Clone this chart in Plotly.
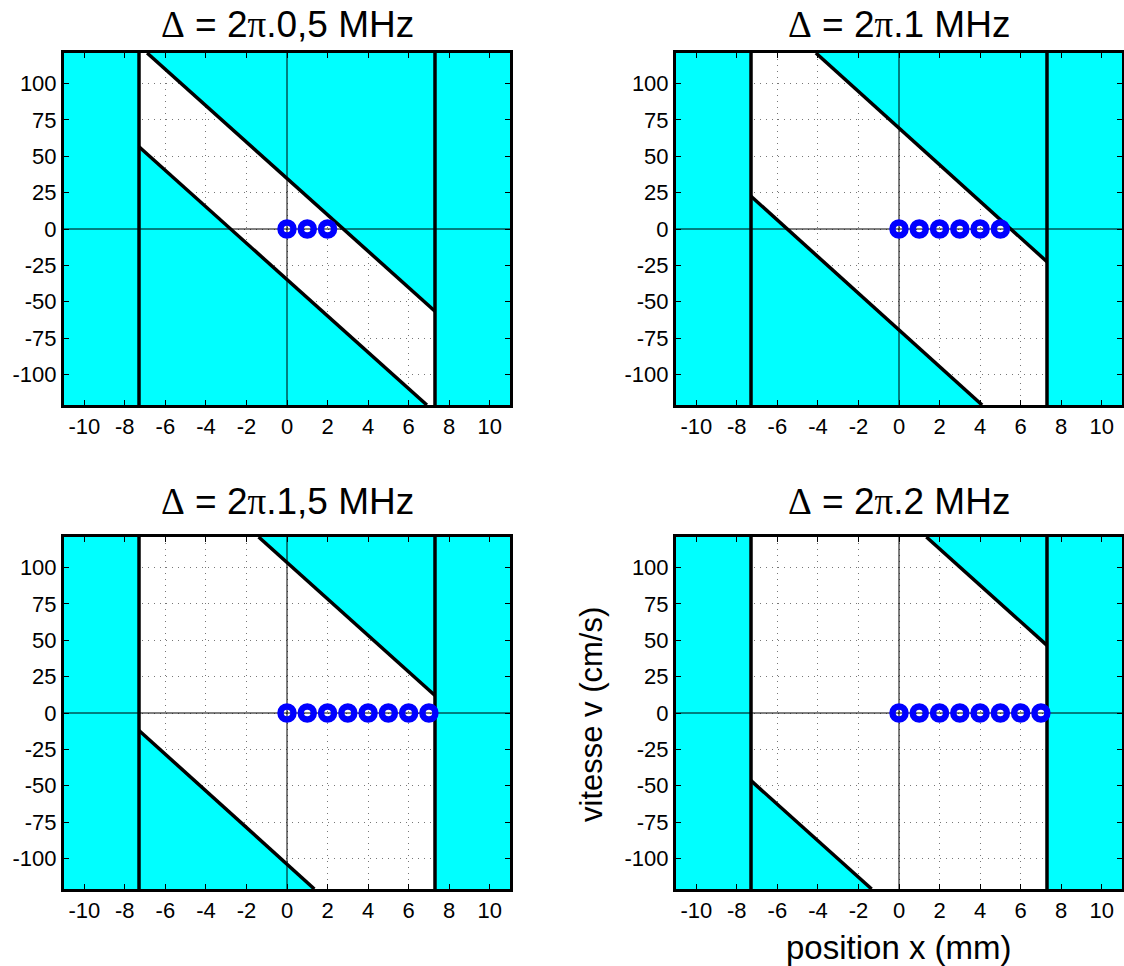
import plotly.graph_objects as go

# ---------------- data ----------------
detuning_labels = ["0,5", "1", "1,5", "2"]

# axis limits and tick values
X_MIN, X_MAX = -11.0, 11.0
V_MIN, V_MAX = -121.0, 121.0
x_ticks = [-10, -8, -6, -4, -2, 0, 2, 4, 6, 8, 10]
x_tick_labels = ["-10", "-8", "-6", "-4", "-2", "0", "2", "4", "6", "8", "10"]
y_ticks = [-100, -75, -50, -25, 0, 25, 50, 75, 100]
y_tick_labels = ["-100", "-75", "-50", "-25", "0", "25", "50", "75", "100"]

# position of the walls (mm)
wall_left = -7.3
wall_right = 7.3

# upper boundary line endpoints (x in mm, v in cm/s) for each panel
upper_x = [[-6.9, 7.3], [-4.1, 7.3], [-1.4, 7.3], [1.35, 7.3]]
upper_v = [[121, -56.5], [121, -22.5], [121, 12], [121, 46.5]]
# lower boundary line endpoints
lower_x = [[-7.3, 6.9], [-7.3, 4.1], [-7.3, 1.35], [-7.3, -1.35]]
lower_v = [[56.5, -121], [22.5, -121], [-12, -121], [-46.5, -121]]

# atoms (blue circles) positions on v = 0
atoms_x = [
    [0, 1, 2],
    [0, 1, 2, 3, 4, 5],
    [0, 1, 2, 3, 4, 5, 6, 7],
    [0, 1, 2, 3, 4, 5, 6, 7],
]
atoms_v = [[0] * len(a) for a in atoms_x]

# ---------------- layout geometry ----------------
W, H = 1124, 966
col_px = [(64, 510), (676, 1122)]
row_px = [(53, 405), (537, 889)]
title_px = [25, 501]

CYAN = "#00FFFF"
BLUE = "#0000FF"
FONT = "Liberation Sans, Arial, sans-serif"
SERIF = "Liberation Serif"

fig = go.Figure()

annotations = []
for i in range(4):
    r, c = divmod(i, 2)
    xa = "x" if i == 0 else f"x{i+1}"
    ya = "y" if i == 0 else f"y{i+1}"
    xl = "xaxis" if i == 0 else f"xaxis{i+1}"
    yl = "yaxis" if i == 0 else f"yaxis{i+1}"

    x0p, x1p = col_px[c]
    y0p, y1p = row_px[r]
    xdom = [x0p / W, x1p / W]
    ydom = [1 - y1p / H, 1 - y0p / H]

    # cyan regions
    regions = [
        ([X_MIN, wall_left, wall_left, X_MIN], [V_MIN, V_MIN, V_MAX, V_MAX]),
        ([wall_right, X_MAX, X_MAX, wall_right], [V_MIN, V_MIN, V_MAX, V_MAX]),
        ([upper_x[i][0], wall_right, wall_right], [V_MAX, V_MAX, upper_v[i][1]]),
        ([wall_left, wall_left, lower_x[i][1]], [lower_v[i][0], V_MIN, V_MIN]),
    ]
    for rx, rv in regions:
        fig.add_trace(go.Scatter(
            x=rx, y=rv, mode="lines", fill="toself", fillcolor=CYAN,
            line=dict(width=0), hoverinfo="skip", showlegend=False,
            xaxis=xa, yaxis=ya))

    # zero axes lines (through origin)
    fig.add_trace(go.Scatter(x=[X_MIN, X_MAX], y=[0, 0], mode="lines",
                             line=dict(color="black", width=1), showlegend=False,
                             hoverinfo="skip", xaxis=xa, yaxis=ya))
    fig.add_trace(go.Scatter(x=[0, 0], y=[V_MIN, V_MAX], mode="lines",
                             line=dict(color="black", width=1), showlegend=False,
                             hoverinfo="skip", xaxis=xa, yaxis=ya))

    # walls
    for wx in (wall_left, wall_right):
        fig.add_trace(go.Scatter(x=[wx, wx], y=[V_MIN, V_MAX], mode="lines",
                                 line=dict(color="black", width=3.5), showlegend=False,
                                 hoverinfo="skip", xaxis=xa, yaxis=ya))
    # diagonal boundaries
    fig.add_trace(go.Scatter(x=upper_x[i], y=upper_v[i], mode="lines",
                             line=dict(color="black", width=3.5), showlegend=False,
                             hoverinfo="skip", xaxis=xa, yaxis=ya))
    fig.add_trace(go.Scatter(x=lower_x[i], y=lower_v[i], mode="lines",
                             line=dict(color="black", width=3.5), showlegend=False,
                             hoverinfo="skip", xaxis=xa, yaxis=ya))

    # atoms
    fig.add_trace(go.Scatter(x=atoms_x[i], y=atoms_v[i], mode="markers",
                             marker=dict(symbol="circle-open", size=13, color=BLUE,
                                         line=dict(color=BLUE, width=6.5)),
                             showlegend=False, xaxis=xa, yaxis=ya))

    axis_common = dict(
        showline=True, linewidth=3, linecolor="black", mirror="ticks",
        ticks="inside", ticklen=5, tickwidth=1, tickcolor="black",
        showgrid=True, gridcolor="#777777", griddash="1px,5px", gridwidth=1,
        zeroline=False, automargin=False,
        tickfont=dict(family=FONT, size=22, color="black"),
    )
    fig.layout[xl] = dict(axis_common, domain=xdom, range=[X_MIN, X_MAX],
                          tickvals=x_ticks, ticktext=x_tick_labels, anchor=ya)
    fig.layout[yl] = dict(axis_common, domain=ydom, range=[V_MIN, V_MAX],
                          tickvals=y_ticks, ticktext=y_tick_labels, anchor=xa)

    annotations.append(dict(
        text=(f"<span style=\"font-family:'{SERIF}'\">\u0394</span> = 2"
              f"<span style=\"font-family:'{SERIF}'\">\u03c0</span>."
              + detuning_labels[i] + " MHz"),
        x=(xdom[0] + xdom[1]) / 2, y=1 - title_px[r] / H,
        xref="paper", yref="paper", xanchor="center", yanchor="middle",
        showarrow=False, font=dict(family=FONT, size=37, color="black")))

# axis titles on the last panel
annotations.append(dict(
    text="position x (mm)", x=(676 + 1122) / 2 / W, y=1 - 947 / H,
    xref="paper", yref="paper", xanchor="center", yanchor="middle",
    showarrow=False, font=dict(family=FONT, size=33, color="black")))
annotations.append(dict(
    text="vitesse v (cm/s)", x=591 / W, y=1 - 714 / H, textangle=-90,
    xref="paper", yref="paper", xanchor="center", yanchor="middle",
    showarrow=False, font=dict(family=FONT, size=31, color="black")))

fig.update_layout(
    width=W, height=H, autosize=False,
    margin=dict(l=0, r=0, t=0, b=0),
    paper_bgcolor="white", plot_bgcolor="white",
    annotations=annotations, showlegend=False,
)

fig.write_html(
    "out.html",
    config={"displayModeBar": False},
    post_script="document.body.style.margin='0';document.body.style.overflow='hidden';",
)
